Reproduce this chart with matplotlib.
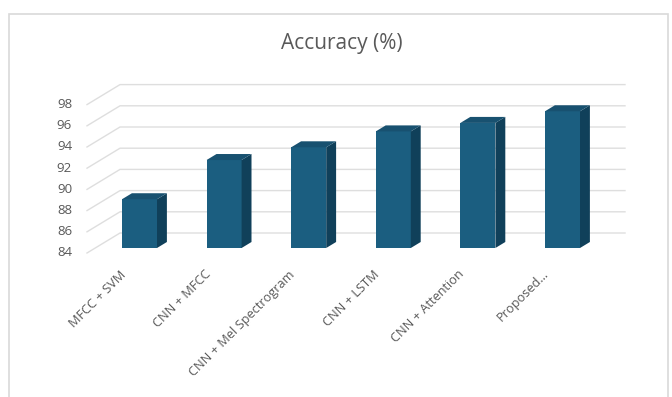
import matplotlib.pyplot as plt
from matplotlib.patches import Polygon

categories = ['MFCC + SVM', 'CNN + MFCC', 'CNN + Mel Spectrogram', 'CNN + LSTM',
              'CNN + Attention', 'Proposed...']
accuracy = [88.6, 92.3, 93.5, 95.0, 95.8, 96.9]
yticks = [84, 86, 88, 90, 92, 94, 96, 98]
ymin = 84

# pixel layout of the fake 3D chart (Excel style)
W, H = 672, 397
X0, PX = 131.25, 84.6      # pixel x of category 0 at front, pixels per category
Y0, PY = 253.0, 10.6       # pixel y of value 84 at front, pixels per unit
DX = 33 / PX               # full depth offset in data units
DY = 20 / PY
d0, d1 = 0.25, 0.55        # bar depth range
bw = 35 / PX               # bar width

front = '#1b5e80'
side = '#10405a'
top = '#185170'
grid = '#dedede'
txt = '#595959'
fonts = ['Open Sans', 'DejaVu Sans']

fig = plt.figure(figsize=(W / 100, H / 100), dpi=100)
fig.patches.append(plt.Rectangle((9 / W, -0.1), (668 - 9) / W, (H - 14) / H + 0.1,
                                 transform=fig.transFigure, fill=False,
                                 edgecolor='#d9d9d9', linewidth=1.2))

# axes from pixel box
left, right, upper, lower = 40, 650, 50, 265
ax = fig.add_axes([left / W, (H - lower) / H, (right - left) / W, (lower - upper) / H])
ax.set_xlim((left - X0) / PX, (right - X0) / PX)
ax.set_ylim(ymin - (lower - Y0) / PY, ymin + (Y0 - upper) / PY)
ax.axis('off')

# gridlines: front-left diagonal then along back wall
xf = (87 - X0) / PX
xr = (625 - X0) / PX
for v in yticks:
    ax.plot([xf, xf + DX, xr], [v, v + DY, v + DY], color=grid, linewidth=1, zorder=1)
    ax.text(xf - 15 / PX, v, str(v), ha='right', va='center', fontsize=9.5,
            color=txt, family=fonts)

xs = [i + d0 * DX for i in range(len(categories))]
ax.bar(xs, [a - ymin for a in accuracy], bottom=ymin + d0 * DY, width=bw,
       color=front, zorder=3)
dd = d1 - d0
for x, a in zip(xs, accuracy):
    xl, xr2 = x - bw / 2, x + bw / 2
    yb, yt = ymin + d0 * DY, a + d0 * DY
    ax.add_patch(Polygon([(xr2, yb), (xr2 + dd * DX, yb + dd * DY),
                          (xr2 + dd * DX, yt + dd * DY), (xr2, yt)],
                         closed=True, facecolor=side, edgecolor='none', zorder=3))
    ax.add_patch(Polygon([(xl, yt), (xr2, yt), (xr2 + dd * DX, yt + dd * DY),
                          (xl + dd * DX, yt + dd * DY)],
                         closed=True, facecolor=top, edgecolor='none', zorder=3))

for i, c in enumerate(categories):
    ax.text(i - 12 / PX, ymin - 1.4, c, rotation=45, ha='right', va='top',
            rotation_mode='anchor', fontsize=9.2, color=txt, family=fonts)

fig.text(342 / W, (H - 43) / H, 'Accuracy (%)', ha='center', va='center',
         fontsize=15, color=txt, family=fonts)

plt.savefig('out.png', dpi=100)
